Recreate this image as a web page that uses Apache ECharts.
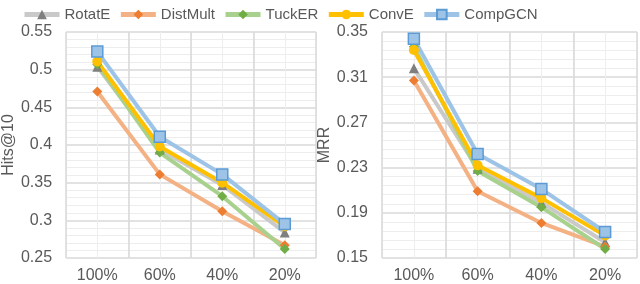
<!DOCTYPE html>
<html><head><meta charset="utf-8">
<script src="https://cdn.jsdelivr.net/npm/echarts@6/dist/echarts.min.js"></script>
<style>html,body{margin:0;padding:0;background:#fff}#c{width:640px;height:284px}</style>
</head><body><div id="c"></div>
<script>
var categories = ['100%', '60%', '40%', '20%'];
var seriesNames = ['RotatE', 'DistMult', 'TuckER', 'ConvE', 'CompGCN'];
var hitsRotatE   = [0.504, 0.394, 0.347, 0.284];
var hitsDistMult = [0.471, 0.361, 0.312, 0.267];
var hitsTuckER   = [0.507, 0.390, 0.332, 0.262];
var hitsConvE    = [0.511, 0.398, 0.350, 0.292];
var hitsCompGCN  = [0.524, 0.411, 0.361, 0.295];
var mrrRotatE    = [0.318, 0.229, 0.199, 0.164];
var mrrDistMult  = [0.307, 0.209, 0.181, 0.160];
var mrrTuckER    = [0.337, 0.227, 0.195, 0.158];
var mrrConvE     = [0.334, 0.232, 0.203, 0.170];
var mrrCompGCN   = [0.344, 0.242, 0.211, 0.173];
var hitsTicks = {min: 0.25, max: 0.55, interval: 0.05};
var mrrTicks  = {min: 0.15, max: 0.35, interval: 0.04};

var FONT = 'Liberation Sans';
var TXT = '#595959';
var styles = {
  RotatE:  {line: '#c9c9c9', fill: '#7f7f7f', border: '#7f7f7f', symbol: 'triangle', size: 10},
  DistMult:{line: '#f4b183', fill: '#ed7d31', border: '#ed7d31', symbol: 'diamond', size: 10},
  TuckER:  {line: '#a9d18e', fill: '#70ad47', border: '#70ad47', symbol: 'diamond', size: 10},
  ConvE:   {line: '#ffc000', fill: '#ffc000', border: '#ffc000', symbol: 'circle', size: 10},
  CompGCN: {line: '#9dc3e6', fill: '#9dc3e6', border: '#5b9bd5', symbol: 'rect', size: 11}
};
var hitsData = [hitsRotatE, hitsDistMult, hitsTuckER, hitsConvE, hitsCompGCN];
var mrrData = [mrrRotatE, mrrDistMult, mrrTuckER, mrrConvE, mrrCompGCN];

function mkSeries(name, data, xi, yi) {
  var s = styles[name];
  return {
    name: name, type: 'line', data: data, xAxisIndex: xi, yAxisIndex: yi,
    symbol: s.symbol, symbolSize: s.size, showSymbol: true,
    lineStyle: {color: s.line, width: 4},
    itemStyle: {color: s.fill, borderColor: s.border, borderWidth: name === 'CompGCN' ? 1.5 : 0},
    animation: false, z: 3
  };
}
var series = [];
seriesNames.forEach(function (n, i) { series.push(mkSeries(n, hitsData[i], 0, 0)); });
seriesNames.forEach(function (n, i) { series.push(mkSeries(n, mrrData[i], 2, 1)); });

function catAxis(gi) {
  return {
    type: 'category', data: categories, gridIndex: gi, boundaryGap: true,
    axisLine: {show: false}, axisTick: {show: false},
    axisLabel: {color: TXT, fontSize: 16, fontFamily: FONT, margin: 10},
    splitLine: {show: true, lineStyle: {color: '#d9d9d9', width: 1.5}}, z: 1
  };
}
function minorAxis(gi) {
  return {
    type: 'category', data: ['', '', '', '', '', '', '', ''], gridIndex: gi, position: 'top',
    axisLine: {show: false}, axisTick: {show: false}, axisLabel: {show: false},
    splitLine: {show: true, lineStyle: {color: '#ededed', width: 1}}, z: 0
  };
}
function valAxis(gi, t, name, gap) {
  return {
    type: 'value', gridIndex: gi, min: t.min, max: t.max, interval: t.interval,
    name: name, nameLocation: 'middle', nameGap: gap,
    nameTextStyle: {color: TXT, fontSize: 16, fontFamily: FONT},
    axisLine: {show: false}, axisTick: {show: false},
    axisLabel: {color: TXT, fontSize: 16, fontFamily: FONT, margin: 14,
      formatter: function (v) { return String(+v.toFixed(2)); }},
    splitLine: {show: true, lineStyle: {color: '#d9d9d9', width: 1.5}},
    minorTick: {show: false, splitNumber: 5},
    minorSplitLine: {show: true, lineStyle: {color: '#ededed', width: 1}}
  };
}

var chart = echarts.init(document.getElementById('c'), null, {renderer: 'canvas'});
chart.setOption({
  backgroundColor: '#fff',
  animation: false,
  textStyle: {fontFamily: FONT},
  legend: {
    data: seriesNames, top: 2, left: 17, itemWidth: 35, itemHeight: 12, itemGap: 8,
    lineStyle: {width: 5},
    textStyle: {color: TXT, fontSize: 15, fontFamily: FONT}
  },
  grid: [
    {left: 60, right: 324, top: 32, bottom: 22},
    {left: 382, right: 3, top: 32, bottom: 21}
  ],
  xAxis: [catAxis(0), minorAxis(0), catAxis(1), minorAxis(1)],
  yAxis: [valAxis(0, hitsTicks, 'Hits@10', 45), valAxis(1, mrrTicks, 'MRR', 48)],
  series: series
});
</script></body></html>
